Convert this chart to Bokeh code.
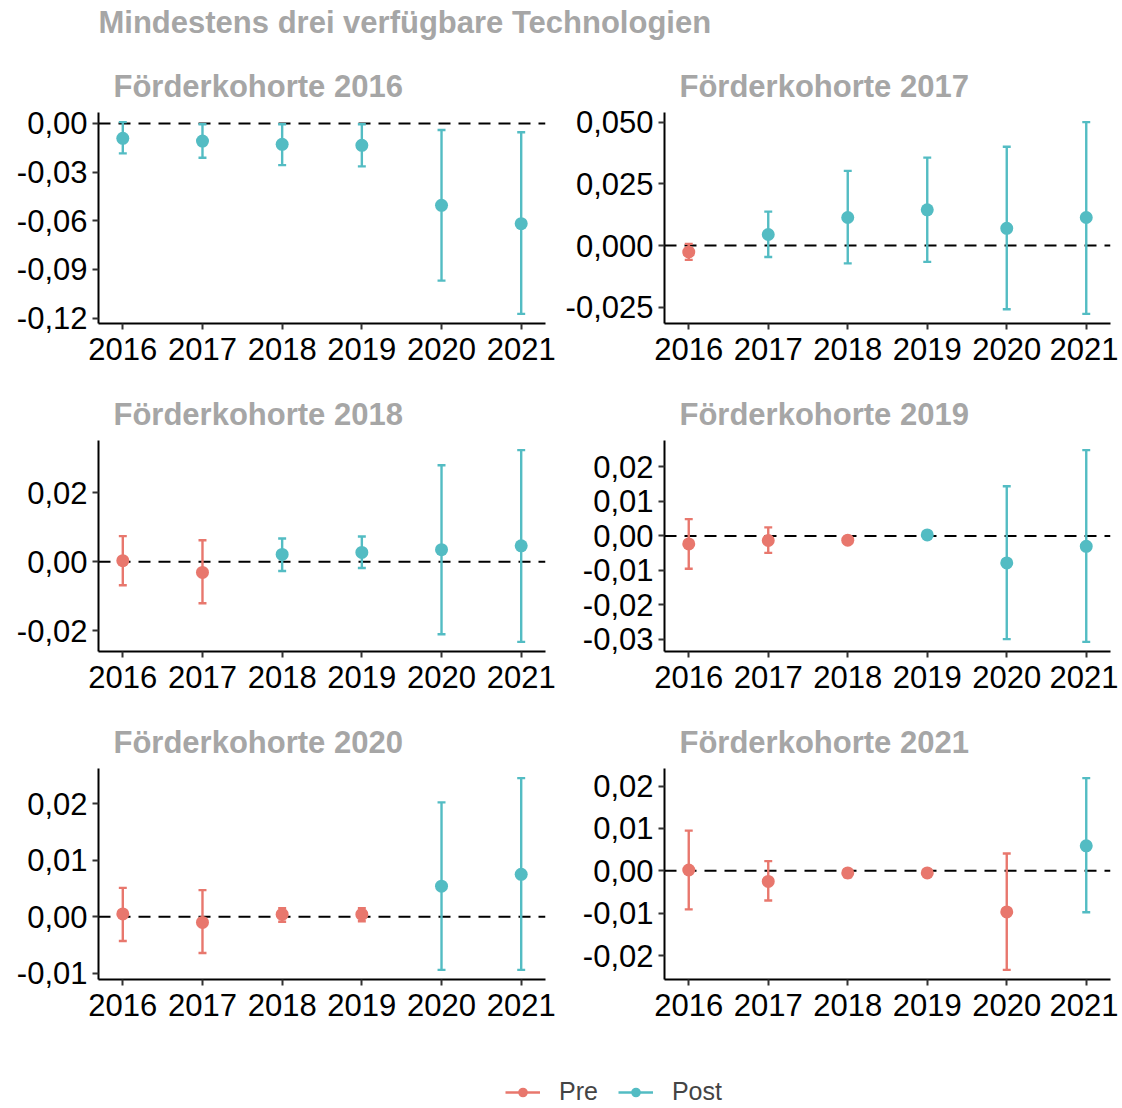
from bokeh.plotting import figure
from bokeh.layouts import column, row
from bokeh.models import (Range1d, FixedTicker, CustomJSTickFormatter, Span,
                          Legend, LegendItem, ColumnDataSource)
from bokeh.embed import file_html
from bokeh.resources import INLINE

years = [2016, 2017, 2018, 2019, 2020, 2021]
main_title = "Mindestens drei verfügbare Technologien"
legend_labels = ["Pre", "Post"]

# Förderkohorte 2016
est_2016 = [-0.0092, -0.0109, -0.0129, -0.0135, -0.0505, -0.0618]
lo_2016 = [-0.0185, -0.0212, -0.0257, -0.0265, -0.0969, -0.1174]
hi_2016 = [0.0008, -0.0005, -0.0005, -0.0005, -0.0041, -0.0055]
phase_2016 = ["Post", "Post", "Post", "Post", "Post", "Post"]
ticks_2016 = [0.0, -0.03, -0.06, -0.09, -0.12]

# Förderkohorte 2017
est_2017 = [-0.0026, 0.0045, 0.0114, 0.0145, 0.0070, 0.0114]
lo_2017 = [-0.0058, -0.0046, -0.0072, -0.0066, -0.0258, -0.0277]
hi_2017 = [0.0007, 0.0138, 0.0303, 0.0357, 0.0401, 0.0501]
phase_2017 = ["Pre", "Post", "Post", "Post", "Post", "Post"]
ticks_2017 = [0.05, 0.025, 0.0, -0.025]

# Förderkohorte 2018
est_2018 = [0.0003, -0.0031, 0.0021, 0.0027, 0.0035, 0.0046]
lo_2018 = [-0.0068, -0.0120, -0.0027, -0.0018, -0.0210, -0.0232]
hi_2018 = [0.0074, 0.0062, 0.0067, 0.0073, 0.0279, 0.0323]
phase_2018 = ["Pre", "Pre", "Post", "Post", "Post", "Post"]
ticks_2018 = [0.02, 0.0, -0.02]

# Förderkohorte 2019
est_2019 = [-0.0023, -0.0013, -0.0012, 0.0003, -0.0078, -0.0030]
lo_2019 = [-0.0095, -0.0049, -0.0017, -0.0003, -0.0299, -0.0307]
hi_2019 = [0.0049, 0.0025, -0.0005, 0.0009, 0.0144, 0.0249]
phase_2019 = ["Pre", "Pre", "Pre", "Post", "Post", "Post"]
ticks_2019 = [0.02, 0.01, 0.0, -0.01, -0.02, -0.03]

# Förderkohorte 2020
est_2020 = [0.0005, -0.0010, 0.0004, 0.0004, 0.0054, 0.0075]
lo_2020 = [-0.0043, -0.0064, -0.0009, -0.0008, -0.0094, -0.0094]
hi_2020 = [0.0051, 0.0047, 0.0015, 0.0015, 0.0202, 0.0245]
phase_2020 = ["Pre", "Pre", "Pre", "Pre", "Post", "Post"]
ticks_2020 = [0.02, 0.01, 0.0, -0.01]

# Förderkohorte 2021
est_2021 = [0.0002, -0.0025, -0.0005, -0.0005, -0.0097, 0.0059]
lo_2021 = [-0.0091, -0.0070, -0.0015, -0.0010, -0.0234, -0.0098]
hi_2021 = [0.0095, 0.0023, 0.0004, -0.0001, 0.0041, 0.0219]
phase_2021 = ["Pre", "Pre", "Pre", "Pre", "Pre", "Post"]
ticks_2021 = [0.02, 0.01, 0.0, -0.01, -0.02]

COLORS = {"Pre": "#E8776D", "Post": "#53BCC3"}
FONT = "Liberation Sans"
TITLE_GRAY = "#A6A6A6"
FS = "31px"
TFS = "31px"
CAP = 0.1
LW = 2.4


def make_panel(cohort, est, lo, hi, phase, ticks, decimals, left, first_row, last_row):
    ymin = min(min(lo), 0.0)
    ymax = max(max(hi), 0.0)
    pad = 0.05 * (ymax - ymin)
    xpad = 0.05 * (years[-1] - years[0] + CAP) + CAP / 2
    p = figure(
        frame_width=447 if left else 446,
        frame_height=211,
        min_border_left=98 if left else 104,
        min_border_right=15 if left else 8,
        min_border_top=56 if first_row else 64,
        min_border_bottom=45 if last_row else 53,
        x_range=Range1d(years[0] - xpad, years[-1] + xpad),
        y_range=Range1d(ymin - pad, ymax + pad),
        output_backend="svg",
        toolbar_location=None,
        title="Förderkohorte %d" % cohort,
    )
    p.title.text_font = FONT
    p.title.text_font_size = TFS
    p.title.text_font_style = "bold"
    p.title.text_color = TITLE_GRAY
    p.title.align = "left"
    p.title.offset = 15
    p.title.standoff = 17

    p.outline_line_color = None
    p.grid.visible = False

    colors = [COLORS[ph] for ph in phase]
    src = ColumnDataSource(dict(
        x=years, est=est, lo=lo, hi=hi, color=colors,
        xl=[y - CAP / 2 for y in years], xr=[y + CAP / 2 for y in years],
    ))

    zero = Span(location=0, dimension="width", line_color="black",
                line_width=2, line_dash="12 8", level="underlay")
    p.add_layout(zero)

    p.segment(x0="x", y0="lo", x1="x", y1="hi", source=src,
              line_color="color", line_width=LW)
    p.segment(x0="xl", y0="lo", x1="xr", y1="lo", source=src,
              line_color="color", line_width=LW)
    p.segment(x0="xl", y0="hi", x1="xr", y1="hi", source=src,
              line_color="color", line_width=LW)
    p.scatter(x="x", y="est", source=src, size=13, fill_color="color",
              line_color="color", line_width=0)

    for ax in (p.xaxis[0], p.yaxis[0]):
        ax.axis_line_color = "black"
        ax.axis_line_width = 2
        ax.major_tick_line_color = "#333333"
        ax.major_tick_line_width = 2
        ax.major_tick_out = 6
        ax.major_tick_in = 0
        ax.minor_tick_line_color = None
        ax.major_label_text_font = FONT
        ax.major_label_text_font_size = FS
        ax.major_label_text_color = "black"
    p.xaxis[0].major_label_standoff = 8
    p.yaxis[0].major_label_standoff = 5
    p.xaxis[0].ticker = FixedTicker(ticks=years)
    p.yaxis[0].ticker = FixedTicker(ticks=ticks)
    p.yaxis[0].formatter = CustomJSTickFormatter(
        args=dict(d=decimals),
        code="var s = Math.abs(tick) < 1e-12 ? (0).toFixed(d) : tick.toFixed(d); return s.replace('.', ',');")
    return p


p1 = make_panel(2016, est_2016, lo_2016, hi_2016, phase_2016, ticks_2016, 2, True, True, False)
p2 = make_panel(2017, est_2017, lo_2017, hi_2017, phase_2017, ticks_2017, 3, False, True, False)
p3 = make_panel(2018, est_2018, lo_2018, hi_2018, phase_2018, ticks_2018, 2, True, False, False)
p4 = make_panel(2019, est_2019, lo_2019, hi_2019, phase_2019, ticks_2019, 2, False, False, False)
p5 = make_panel(2020, est_2020, lo_2020, hi_2020, phase_2020, ticks_2020, 2, True, False, True)
p6 = make_panel(2021, est_2021, lo_2021, hi_2021, phase_2021, ticks_2021, 2, False, False, True)

# header with the overall title
hd = figure(width=1118, height=56, min_border=0, x_range=Range1d(0, 1), y_range=Range1d(0, 1),
            output_backend="svg", toolbar_location=None,
            x_axis_location=None, y_axis_location=None, title=main_title)
hd.outline_line_color = None
hd.grid.visible = False
hd.title.text_font = FONT
hd.title.text_font_size = TFS
hd.title.text_font_style = "bold"
hd.title.text_color = TITLE_GRAY
hd.title.align = "left"
hd.title.offset = 98
hd.title.standoff = 4

# legend strip
lg = figure(width=1118, height=82, x_range=Range1d(0, 1), y_range=Range1d(0, 1),
            output_backend="svg", toolbar_location=None, min_border=0,
            x_axis_location=None, y_axis_location=None)
lg.outline_line_color = None
lg.grid.visible = False
nan = float("nan")
items = []
for lab in legend_labels:
    rl = lg.line(x=[nan], y=[nan], line_color=COLORS[lab], line_width=LW)
    rs = lg.scatter(x=[nan], y=[nan], size=13, fill_color=COLORS[lab],
                    line_color=COLORS[lab], line_width=0)
    items.append(LegendItem(label=lab, renderers=[rl, rs]))
legend = Legend(items=items, orientation="horizontal", location=(505, 0),
                border_line_color=None, background_fill_alpha=0,
                label_text_font=FONT, label_text_font_size="25px",
                glyph_width=35, glyph_height=24, label_standoff=19, spacing=20,
                padding=0, margin=0)
lg.add_layout(legend, "center")

layout = column(hd, row(p1, p2), row(p3, p4), row(p5, p6), lg)
open("out.html", "w").write(file_html(layout, INLINE))
